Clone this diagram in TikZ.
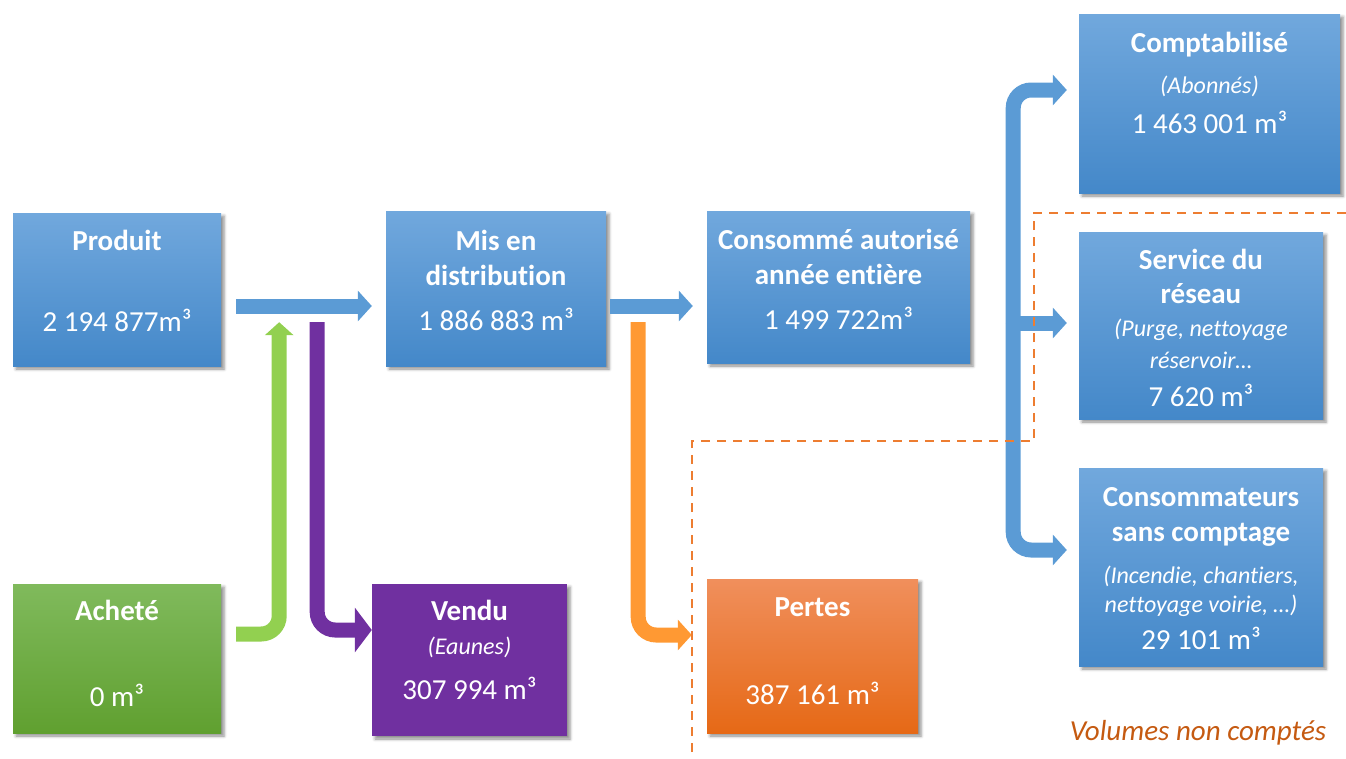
\documentclass[tikz,border=0pt]{standalone}
\usepackage{fontspec}
\setmainfont{Carlito}[Ligatures=NoCommon]
\usepackage{xcolor}
\usetikzlibrary{arrows.meta,positioning,calc,shadows.blur}
\definecolor{bleuhaut}{RGB}{113,168,221}
\definecolor{bleubas}{RGB}{68,136,201}
\definecolor{verthaut}{RGB}{128,186,92}
\definecolor{vertbas}{RGB}{96,160,48}
\definecolor{mauve}{RGB}{112,48,160}
\definecolor{orangehaut}{RGB}{240,143,92}
\definecolor{orangebas}{RGB}{230,105,22}
\definecolor{flbleu}{RGB}{91,155,213}
\definecolor{flvert}{RGB}{146,208,80}
\definecolor{florange}{RGB}{255,153,51}
\definecolor{tirets}{RGB}{237,125,49}
\definecolor{note}{RGB}{197,90,17}
\newcommand{\titre}[1]{{\fontsize{29}{35}\selectfont\bfseries #1}}
\newcommand{\detail}[1]{{\fontsize{24}{35}\selectfont\itshape #1}}

\begin{document}
\begin{tikzpicture}[x=1pt,y=-1pt,
  boite/.style={inner sep=0pt,blur shadow={shadow xshift=3pt,shadow yshift=-3pt,shadow blur radius=3pt,shadow opacity=45}},
  bleu/.style={boite,top color=bleuhaut,bottom color=bleubas},
  texte/.style={text=white,align=center,inner sep=0pt,font=\fontsize{29}{35}\selectfont},
  fleche/.style={line width=15pt,rounded corners=18pt,-{Triangle[width=30pt,length=14pt]}}]
\useasboundingbox (0,0) rectangle (1346,758);
% boites
\node[bleu,minimum width=208pt,minimum height=153pt] (prod) at (117,289.5) {};
\node[bleu,minimum width=220pt,minimum height=155pt] (dist) at (496,288.5) {};
\node[bleu,minimum width=263pt,minimum height=152pt] (conso) at (838.5,287) {};
\node[bleu,minimum width=261pt,minimum height=179pt] (compta) at (1209.5,103.5) {};
\node[bleu,minimum width=244pt,minimum height=187pt] (serv) at (1201,325.5) {};
\node[bleu,minimum width=244pt,minimum height=198pt] (sans) at (1201,567) {};
\node[boite,top color=verthaut,bottom color=vertbas,minimum width=208pt,minimum height=149pt] (achat) at (117,658.5) {};
\node[boite,fill=mauve,minimum width=195pt,minimum height=152pt] (vendu) at (469.5,660) {};
\node[boite,top color=orangehaut,bottom color=orangebas,minimum width=211pt,minimum height=154pt] (pertes) at (812.5,656) {};
% textes
\node[texte,below=13pt of prod.north] (prodtxt) {\strut\titre{Produit}\\[46pt]2 194 877m³};
\node[texte,below=15pt of dist.north] (disttxt) {\strut\titre{Mis en}\\\titre{distribution}\\[10pt]1 886 883 m³};
\node[texte,below=14pt of conso.north] (consotxt) {\strut\titre{Consommé autorisé}\\\titre{année entière}\\[10pt]1 499 722m³};
\node[texte,below=14pt of compta.north] (comptatxt) {\strut\titre{Comptabilisé}\\[6pt]\detail{(Abonnés)}\\[5pt]1 463 001 m³};
\node[texte,below=13pt of serv.north] (servtxt) {\strut\titre{Service du}\\[-1pt]\titre{réseau}\\[-2pt]\detail{(Purge, nettoyage}\\[-3pt]\detail{réservoir…}\\[3pt]7 620 m³};
\node[texte,below=14pt of sans.north] (sanstxt) {\strut\titre{Consommateurs}\\\titre{sans comptage}\\[7pt]\detail{(Incendie, chantiers,}\\[-6pt]\detail{nettoyage voirie, …)}\\[2pt]29 101 m³};
\node[texte,below=12pt of achat.north] (achattxt) {\strut\titre{Acheté}\\[51pt]0 m³};
\node[texte,below=12pt of vendu.north] (vendutxt) {\strut\titre{Vendu}\\[-1pt]\detail{(Eaunes)}\\[10pt]307 994 m³};
\node[texte,below=13pt of pertes.north] (pertestxt) {\strut\titre{Pertes}\\[53pt]387 161 m³};
% fleches
\draw[fleche,flbleu] ($(prod.east)+(15,16.5)$) -- ($(dist.west)+(-14,17.5)$);
\draw[fleche,flbleu] ($(dist.east)+(4,17.5)$) -- ($(conso.west)+(-14,19)$);
\draw[fleche,flvert,-{Triangle[width=28pt,length=13pt]}] ($(achat.east)+(15,-24.5)$) -| ($(prod.south east)+(58,-44)$);
\draw[fleche,mauve,-{Triangle[width=44pt,length=17pt]}] ($(prod.south east)+(96,-44)$) |- ($(vendu.west)+(0,-30)$);
\draw[fleche,florange] ($(dist.south east)+(32,-44)$) |- ($(pertes.west)+(-15,-21)$);
\draw[fleche,flbleu] ($(conso.east)+(43,36)$) |- ($(compta.west)+(-12,-13.5)$);
\draw[fleche,flbleu] ($(conso.east)+(43,36)$) |- ($(sans.west)+(-12,-17)$);
\draw[fleche,flbleu] ($(conso.east)+(43,36)$) -- ($(serv.west)+(-12,-2.5)$);
% volumes non comptes
\draw[tirets,line width=2.5pt,dash pattern=on 9pt off 7pt] (692,752) -- (692,441) -- (1034,441) -- (1034,213) -- (1346,213);
\node[font=\fontsize{29}{35}\selectfont\itshape,text=note] (legende) at (1198,733) {Volumes non comptés};
\end{tikzpicture}
\end{document}
